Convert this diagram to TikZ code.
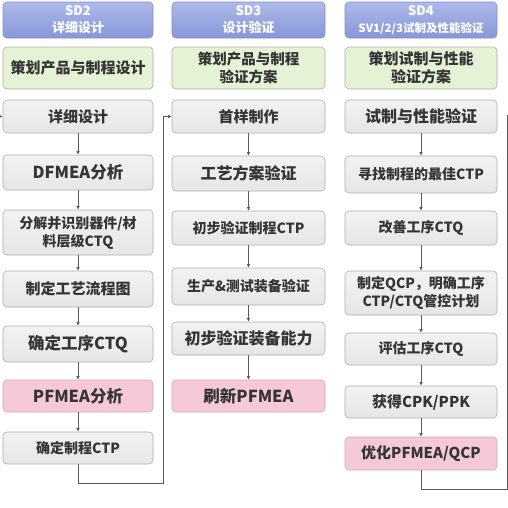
\documentclass[tikz,border=0pt]{standalone}
\usepackage{fontspec}
\setmainfont{Noto Sans CJK SC}
\usetikzlibrary{arrows.meta}
\definecolor{hdrtop}{HTML}{AEBAEA}
\definecolor{hdrbot}{HTML}{8797D8}
\definecolor{hdrline}{HTML}{7F8FCB}
\definecolor{greenf}{HTML}{E5F2D6}
\definecolor{greenl}{HTML}{A9B3A2}
\definecolor{greytop}{HTML}{F2F2F2}
\definecolor{greybot}{HTML}{E6E6E6}
\definecolor{greyl}{HTML}{AEAEAE}
\definecolor{pinkf}{HTML}{F5C9D7}
\definecolor{pinkl}{HTML}{CFA8B6}
\definecolor{txt}{HTML}{353535}
\definecolor{linec}{HTML}{5A5A5A}
\begin{document}
\begin{tikzpicture}[x=1pt,y=-1pt,
  box/.style={rounded corners=4pt, line width=0.6pt, inner sep=1pt, align=center,
    text=txt, font=\bfseries\fontsize{15}{19}\selectfont},
  sz/.style 2 args={minimum width=#1, minimum height=#2},
  hdr/.style={box, draw=hdrline, top color=hdrtop, bottom color=hdrbot, text=white,
    font=\bfseries\fontsize{13}{17}\selectfont},
  plan/.style={box, draw=greenl, fill=greenf},
  gbox/.style={box, draw=greyl, top color=greytop, bottom color=greybot},
  pbox/.style={box, draw=pinkl, fill=pinkf},
  small/.style={font=\bfseries\fontsize{14}{18}\selectfont},
  large/.style={font=\bfseries\fontsize{16.5}{20}\selectfont},
  link/.style={draw=linec, line width=0.7pt, -{Latex[length=3.5pt,width=3.5pt]}},
  plainlink/.style={draw=linec, line width=0.7pt}
]
\useasboundingbox (0,0) rectangle (508,507);
% headers
\node[hdr, sz={150pt}{36pt}] (h1) at (78,20) {SD2\\详细设计};
\node[hdr, sz={153pt}{36pt}] (h2) at (248.5,20) {SD3\\设计验证};
\node[hdr, sz={152pt}{36pt}] (h3) at (421,20) {SD4\\{\fontsize{11.5}{14}\selectfont SV1/2/3试制及性能验证}};
% plan boxes
\node[plan, sz={150pt}{42pt}] (p1) at (78,68) {策划产品与制程设计};
\node[plan, sz={153pt}{42pt}, font=\bfseries\fontsize{14.5}{18.5}\selectfont] (p2) at (248.5,68) {策划产品与制程\\验证方案};
\node[plan, sz={152pt}{42pt}, font=\bfseries\fontsize{15}{18.5}\selectfont] (p3) at (421,68) {策划试制与性能\\验证方案};
% column 1
\node[gbox, sz={150pt}{33pt}] (a1) at (78,116.5) {详细设计};
\node[gbox, sz={150pt}{35pt}, large] (a2) at (78,172.5) {DFMEA分析};
\node[gbox, sz={150pt}{45pt}, small] (a3) at (78,232.5) {分解并识别器件/材\\料层级CTQ};
\node[gbox, sz={150pt}{36pt}] (a4) at (78,289) {制定工艺流程图};
\node[gbox, sz={150pt}{36pt}, large] (a5) at (78,344) {确定工序CTQ};
\node[pbox, sz={150pt}{32pt}, large] (a6) at (78,396) {PFMEA分析};
\node[gbox, sz={150pt}{32pt}, small] (a7) at (78,448) {确定制程CTP};
% column 2
\node[gbox, sz={153pt}{33pt}] (b1) at (248.5,116.5) {首样制作};
\node[gbox, sz={153pt}{35pt}, font=\bfseries\fontsize{16}{19}\selectfont] (b2) at (248.5,173.5) {工艺方案验证};
\node[gbox, sz={153pt}{34pt}, small] (b3) at (248.5,228) {初步验证制程CTP};
\node[gbox, sz={153pt}{37pt}, small] (b4) at (248.5,286.5) {生产\&测试装备验证};
\node[gbox, sz={153pt}{33pt}, font=\bfseries\fontsize{16}{19}\selectfont] (b5) at (248.5,338.5) {初步验证装备能力};
\node[pbox, sz={153pt}{32pt}, large] (b6) at (248.5,396) {刷新PFMEA};
% column 3
\node[gbox, sz={152pt}{33pt}, font=\bfseries\fontsize{16}{19}\selectfont] (c1) at (421,116.5) {试制与性能验证};
\node[gbox, sz={152pt}{37pt}, small] (c2) at (421,174.5) {寻找制程的最佳CTP};
\node[gbox, sz={152pt}{34pt}, small] (c3) at (421,228) {改善工序CTQ};
\node[gbox, sz={152pt}{44pt}, small] (c4) at (421,293) {制定QCP，明确工序\\CTP/CTQ管控计划};
\node[gbox, sz={152pt}{32pt}, small] (c5) at (421,349) {评估工序CTQ};
\node[gbox, sz={152pt}{32pt}] (c6) at (421,402) {获得CPK/PPK};
\node[pbox, sz={152pt}{33pt}] (c7) at (421,453.5) {优化PFMEA/QCP};
% connectors
\foreach \u/\v in {a1/a2,a2/a3,a3/a4,a4/a5,a5/a6,a6/a7,
                   b1/b2,b2/b3,b3/b4,b4/b5,b5/b6,
                   c1/c2,c2/c3,c3/c4,c4/c5,c5/c6,c6/c7}
  \draw[link] (\u) -- (\v);
\coordinate (in0) at (0,116.5);
\draw[link] (in0) -- (a1.west);
\coordinate (l1) at (163,483);
\draw[link] (a7.south) |- (l1) |- (b1.west);
\coordinate (l3) at (507,489);
\coordinate (l3e) at (507,115);
\draw[plainlink] (c7.south) |- (l3) -- (l3e);
\end{tikzpicture}
\end{document}
